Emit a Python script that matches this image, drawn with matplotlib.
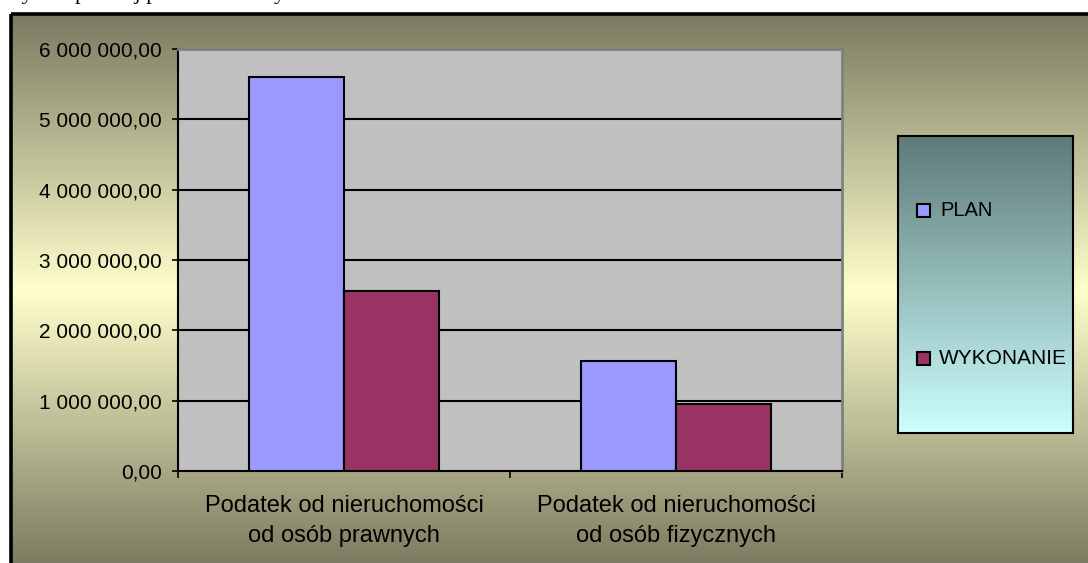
import numpy as np
import matplotlib as mpl
mpl.use('Agg')
import matplotlib.pyplot as plt
from matplotlib.patches import Rectangle
from matplotlib.ticker import FuncFormatter

categories = ["Podatek od nieruchomości\nod osób prawnych",
              "Podatek od nieruchomości\nod osób fizycznych"]
series = ["PLAN", "WYKONANIE"]
plan = [5600000, 1567000]
wykonanie = [2557000, 956000]
yticks = [0, 1000000, 2000000, 3000000, 4000000, 5000000, 6000000]

plt.rcParams['font.family'] = ['Liberation Sans', 'DejaVu Sans']

W, H = 1088, 563
fig = plt.figure(figsize=(W / 100, H / 100), dpi=100)
fig.patch.set_facecolor('white')

### background: chart area gradient (olive -> pale yellow -> olive)
bg = fig.add_axes([0, 0, 1, 1])
bg.set_xlim(0, W)
bg.set_ylim(H, 0)
bg.axis('off')
olive = np.array([122, 122, 96]) / 255
yellow = np.array([255, 255, 204]) / 255
ys = np.linspace(14, 568, 400)
t = np.abs(ys - 290) / 276
grad = yellow[None, :] + t[:, None] * (olive - yellow)[None, :]
grad = np.repeat(grad[:, None, :], 2, axis=1)
bg.imshow(grad, extent=(11, W + 10, 568, 14), aspect='auto', zorder=0)
bg.add_patch(Rectangle((11, 14), W + 20, H + 20, fill=False,
                       edgecolor='black', lw=2.6, zorder=1))
# line of page text above the chart, only its descenders are visible
bg.text(2, -1, "Wykres poniżej przedstawia wykonanie",
        family='Liberation Serif', fontsize=16, va='baseline', ha='left')

### bar chart
ax = fig.add_axes([178 / W, 1 - 471 / H, 664 / W, 422 / H])
ax.set_facecolor('#C0C0C0')
x = np.arange(len(categories))
w = 0.285
ax.bar(x - w / 2, plan, w, color='#9999FF', edgecolor='black', lw=1.5, zorder=3)
ax.bar(x + w / 2, wykonanie, w, color='#993366', edgecolor='black', lw=1.5, zorder=3)
ax.set_xlim(-0.5, 1.5)
ax.set_ylim(0, 6000000)
ax.set_yticks(yticks)
ax.yaxis.set_major_formatter(FuncFormatter(
    lambda v, p: f"{v:,.2f}".replace(',', ' ').replace('.', ',')))
for v in yticks[1:-1]:
    ax.axhline(v, color='black', lw=1.5, zorder=1)
ax.tick_params(axis='y', direction='out', length=4.5, width=1.2, labelsize=15, pad=7)
ax.set_xticks(x)
ax.set_xticklabels(categories, fontsize=17, linespacing=1.5)
ax.tick_params(axis='x', length=0, pad=17)
ax.set_xticks([-0.5, 0.5, 1.5], minor=True)
ax.tick_params(axis='x', which='minor', direction='out', length=5, width=1.2)
for s in ['left', 'bottom']:
    ax.spines[s].set_color('black')
    ax.spines[s].set_linewidth(1.5)
for s in ['top', 'right']:
    ax.spines[s].set_color('#808080')
    ax.spines[s].set_linewidth(2)

### legend box
lg = fig.add_axes([898 / W, 1 - 433 / H, 175 / W, 297 / H])
lg.set_xlim(0, 175)
lg.set_ylim(297, 0)
top_c = np.array([94, 122, 120]) / 255
bot_c = np.array([204, 255, 255]) / 255
tt = np.linspace(0, 1, 300)
lgrad = top_c[None, :] + tt[:, None] * (bot_c - top_c)[None, :]
lgrad = np.repeat(lgrad[:, None, :], 2, axis=1)
lg.imshow(lgrad, extent=(0, 175, 297, 0), aspect='auto', zorder=0)
lg.set_xticks([])
lg.set_yticks([])
for s in lg.spines.values():
    s.set_linewidth(1.5)
    s.set_color('black')
lg.add_patch(Rectangle((19, 68), 13, 13, facecolor='#9999FF', edgecolor='black', lw=1.5, zorder=2))
lg.text(42, 75, series[0], fontsize=14.5, va='center', ha='left')
lg.add_patch(Rectangle((19, 216), 13, 13, facecolor='#993366', edgecolor='black', lw=1.5, zorder=2))
lg.text(41, 223, series[1], fontsize=15, va='center', ha='left')

plt.savefig('out.png', dpi=100)
